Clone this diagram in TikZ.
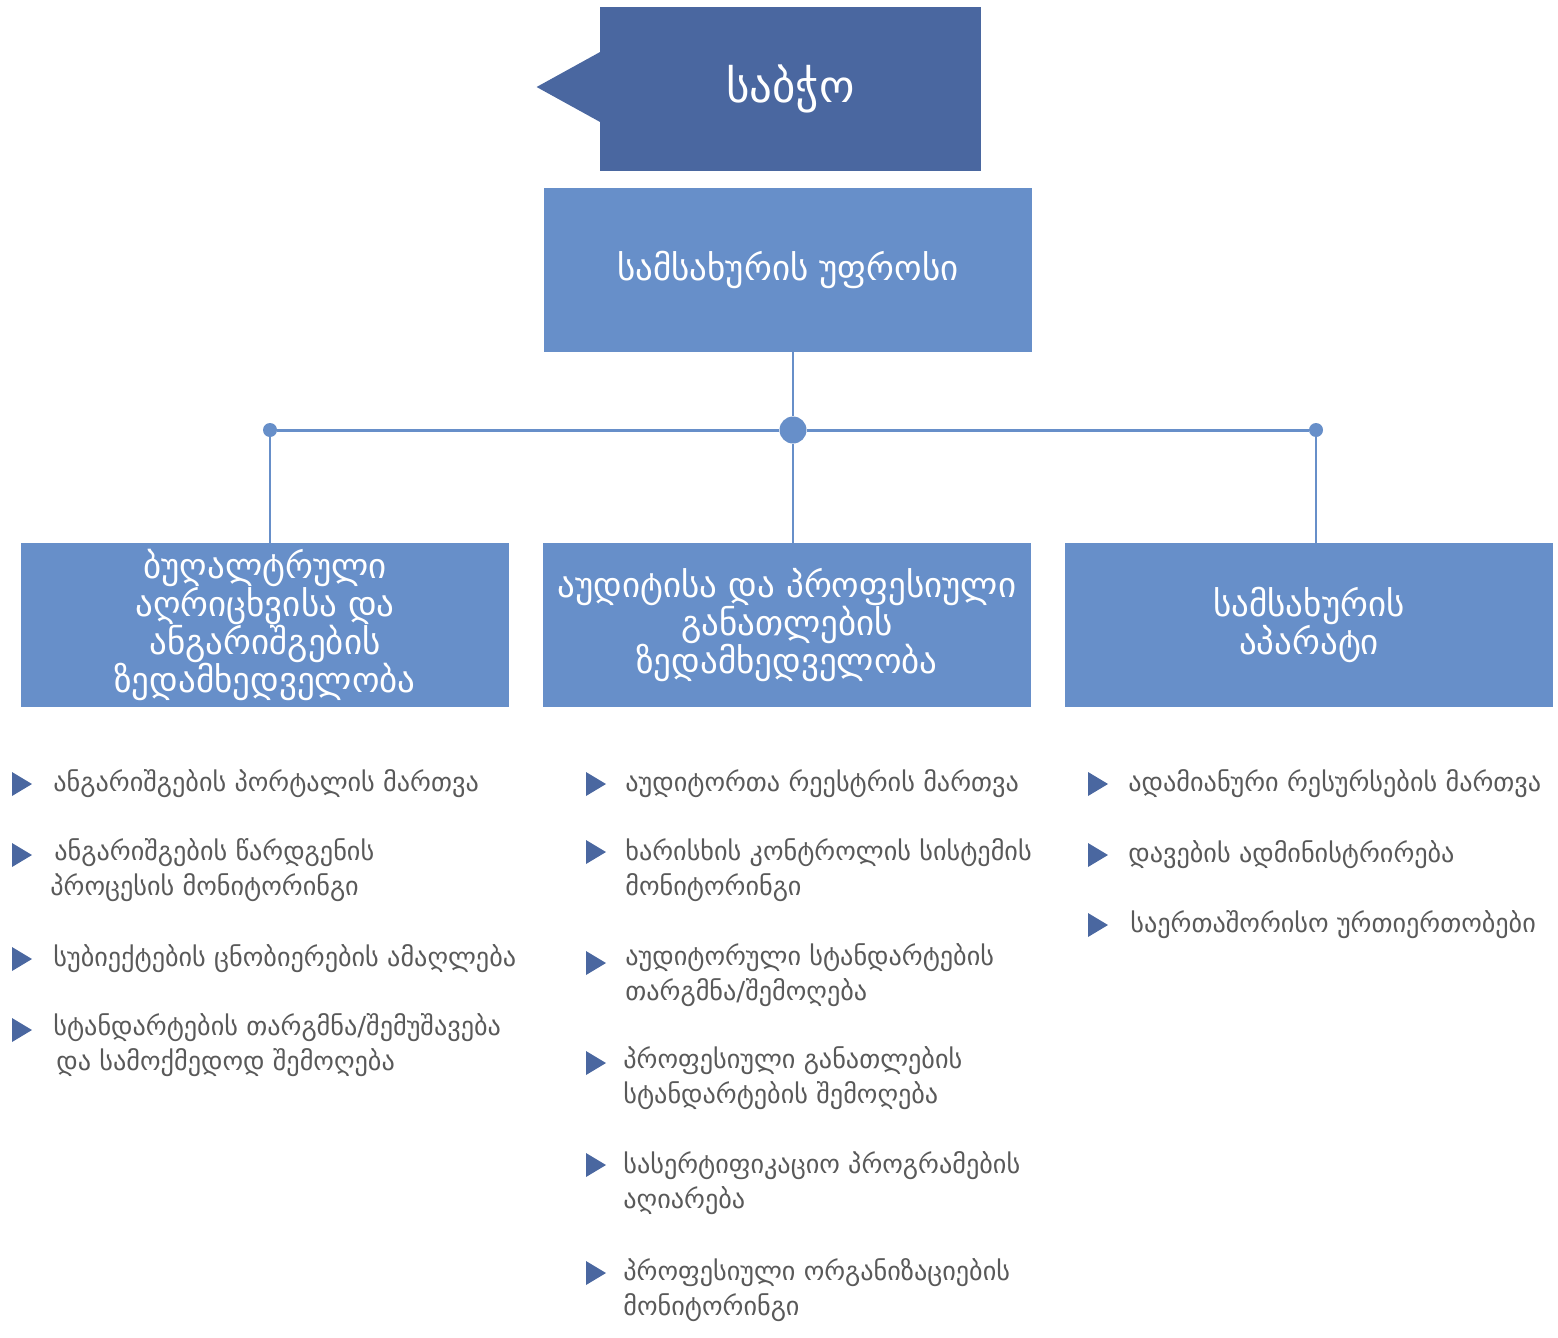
\documentclass[tikz,border=0pt]{standalone}
\usepackage{fontspec}
\newfontfamily\geo[Script=Georgian]{DejaVu Sans}
\usetikzlibrary{calc}
\definecolor{darkblue}{RGB}{74,103,160}
\definecolor{lightblue}{RGB}{103,143,201}
\definecolor{txtgray}{RGB}{89,89,89}
\tikzset{
  box/.style={fill=lightblue, draw=none, minimum width=244pt, minimum height=82pt, text=white, align=center, inner sep=0pt, font=\geo\fontsize{17.5}{19}\selectfont},
  item/.style={anchor=west, align=left, text=txtgray, inner sep=0pt, font=\geo\fontsize{13.1}{17.5}\selectfont},
  conn/.style={draw=lightblue, line width=1pt},
  hconn/.style={draw=lightblue, line width=1.5pt},
  bul/.style={fill=darkblue},
}
\newcommand{\bult}[1]{\fill[bul] ($(#1)+(-10,-12)$) -- ($(#1)+(10,0)$) -- ($(#1)+(-10,12)$) -- cycle;}
\begin{document}
\begin{tikzpicture}[x=0.5pt,y=-0.5pt]
\useasboundingbox (0,0) rectangle (1558,1338);
% top
\node[fill=darkblue, minimum width=190.5pt, minimum height=82pt, inner sep=0pt, text=white, font=\geo\fontsize{22.5}{26}\selectfont] (board) at (790.5,89) {საბჭო};
\fill[darkblue] ($(board.west)+(0.5,-37)$) -- ($(board.west)+(-63,-2)$) -- ($(board.west)+(0.5,33)$) -- cycle;
\node[box] (chief) at (788,270) {სამსახურის უფროსი};
% hub
\node[circle, fill=lightblue, minimum size=13.5pt, inner sep=0pt] (hub) at (793,430) {};
\node[circle, fill=lightblue, minimum size=7pt, inner sep=0pt] (dotL) at (270,430) {};
\node[circle, fill=lightblue, minimum size=7pt, inner sep=0pt] (dotR) at (1316,430) {};
% divisions
\node[box] (d1) at (265,625) {ბუღალტრული\\აღრიცხვისა და\\ანგარიშგების\\ზედამხედველობა};
\node[box] (d2) at (787,625) {აუდიტისა და პროფესიული\\განათლების\\ზედამხედველობა};
\node[box] (d3) at (1309,625) {სამსახურის\\აპარატი};
% connectors
\draw[conn] (hub) -- (hub |- chief.south);
\draw[hconn] (dotL) -- (hub) -- (dotR);
\draw[conn] (dotL) -- (dotL |- d1.north);
\draw[conn] (hub) -- (hub |- d2.north);
\draw[conn] (dotR) -- (dotR |- d3.north);
% left list
\coordinate (bL1) at (22,784); \bult{bL1}
\coordinate (bL2) at (22,855); \bult{bL2}
\coordinate (bL3) at (22,959); \bult{bL3}
\coordinate (bL4) at (22,1030); \bult{bL4}
\node[item] (l1) at (53,784) {ანგარიშგების პორტალის მართვა};
\node[item, anchor=north west] (l2) at (50,838) {\hspace*{2pt}ანგარიშგების წარდგენის\\პროცესის მონიტორინგი};
\node[item] (l3) at (53,959) {სუბიექტების ცნობიერების ამაღლება};
\node[item, anchor=north west] (l4) at (53,1013) {სტანდარტების თარგმნა/შემუშავება\\\hspace*{1.5pt}და სამოქმედოდ შემოღება};
% middle list
\coordinate (bM1) at (596,784); \bult{bM1}
\coordinate (bM2) at (596,852); \bult{bM2}
\coordinate (bM3) at (596,963); \bult{bM3}
\coordinate (bM4) at (596,1063); \bult{bM4}
\coordinate (bM5) at (596,1165); \bult{bM5}
\coordinate (bM6) at (596,1273); \bult{bM6}
\node[item] (m1) at (625,784) {აუდიტორთა რეესტრის მართვა};
\node[item, anchor=north west] (m2) at (625,838) {ხარისხის კონტროლის სისტემის\\მონიტორინგი};
\node[item, anchor=north west] (m3) at (625,943) {აუდიტორული სტანდარტების\\თარგმნა/შემოღება};
\node[item, anchor=north west] (m4) at (623,1046) {პროფესიული განათლების\\სტანდარტების შემოღება};
\node[item, anchor=north west] (m5) at (623,1151) {სასერტიფიკაციო პროგრამების\\აღიარება};
\node[item, anchor=north west] (m6) at (623,1258) {პროფესიული ორგანიზაციების\\მონიტორინგი};
% right list
\coordinate (bR1) at (1098,784); \bult{bR1}
\coordinate (bR2) at (1098,855); \bult{bR2}
\coordinate (bR3) at (1098,925); \bult{bR3}
\node[item] (r1) at (1128,784) {ადამიანური რესურსების მართვა};
\node[item] (r2) at (1128,855) {დავების ადმინისტრირება};
\node[item] (r3) at (1130,925) {საერთაშორისო ურთიერთობები};
\end{tikzpicture}
\end{document}
